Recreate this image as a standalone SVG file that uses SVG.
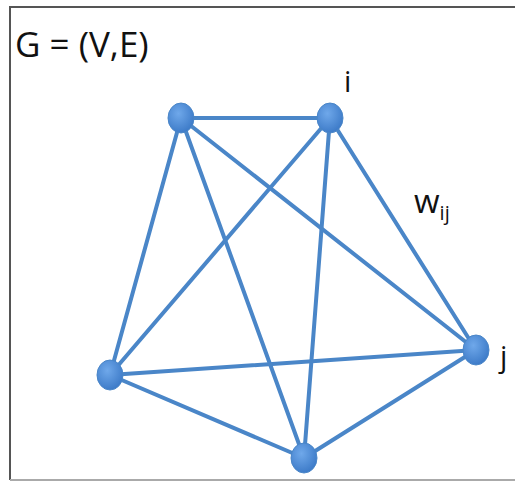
<svg xmlns="http://www.w3.org/2000/svg" width="516" height="483" viewBox="0 0 516 483">
<defs>
<radialGradient id="ng" cx="0.4" cy="0.35" r="0.7">
<stop offset="0" stop-color="#6fa8ea"/>
<stop offset="1" stop-color="#3a78c6"/>
</radialGradient>
<style>
.e{stroke:#4a86c8;stroke-width:4;fill:none;stroke-linecap:round}
.n{fill:url(#ng);stroke:#4a86c8;stroke-width:1}
.t{font-family:"Open Sans","Liberation Sans",sans-serif;fill:#111}
</style>
</defs>
<rect width="516" height="483" fill="#fff"/>
<path d="M10,480 V7 H515" fill="none" stroke="#555" stroke-width="2"/>
<path d="M10,480 H515" fill="none" stroke="#aaa" stroke-width="2"/>
<text class="t" x="15" y="57" font-size="35">G = (V,E)</text>
<g id="edges">
<line class="e" x1="181" y1="118" x2="330" y2="118"/>
<line class="e" x1="181" y1="118" x2="110" y2="375"/>
<line class="e" x1="181" y1="118" x2="304" y2="458"/>
<line class="e" x1="181" y1="118" x2="476" y2="350"/>
<line class="e" x1="330" y1="118" x2="110" y2="375"/>
<line class="e" x1="330" y1="118" x2="304" y2="458"/>
<line class="e" x1="330" y1="118" x2="476" y2="350"/>
<line class="e" x1="110" y1="375" x2="476" y2="350"/>
<line class="e" x1="110" y1="375" x2="304" y2="458"/>
<line class="e" x1="304" y1="458" x2="476" y2="350"/>
</g>
<g id="n1"><ellipse class="n" cx="181" cy="118" rx="13" ry="15"/></g>
<g id="ni"><ellipse class="n" cx="330" cy="118" rx="13" ry="15"/><text class="t" x="344" y="92" font-size="29">i</text></g>
<g id="nj"><ellipse class="n" cx="476" cy="350" rx="13" ry="15"/><text class="t" x="500" y="367" font-size="29">j</text></g>
<g id="n4"><ellipse class="n" cx="110" cy="375" rx="13" ry="15"/></g>
<g id="n5"><ellipse class="n" cx="304" cy="458" rx="13" ry="15"/></g>
<g id="lw"><text class="t" x="414" y="213" font-size="33">w<tspan font-size="20" dy="7">ij</tspan></text></g>
</svg>
